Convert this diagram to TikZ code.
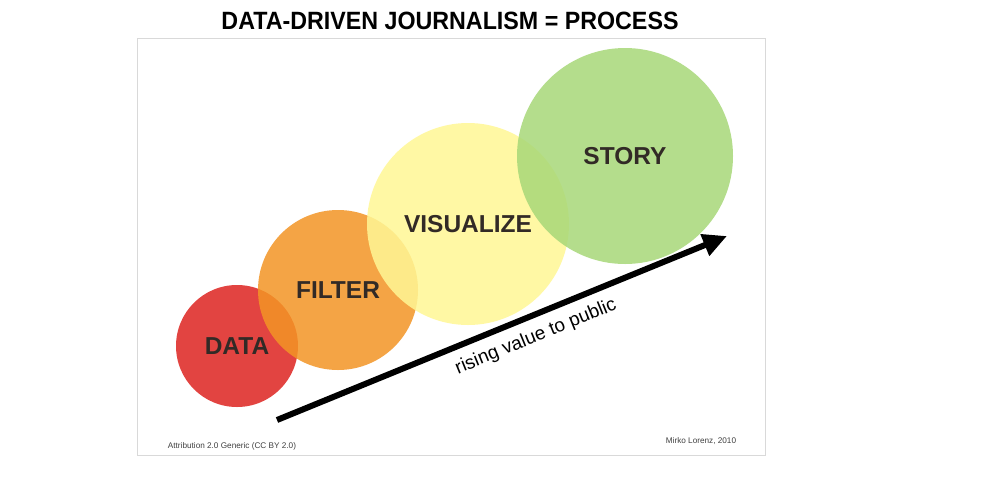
\documentclass[tikz,border=0pt]{standalone}
\usepackage{fontspec}
\setmainfont{Liberation Sans}
\usetikzlibrary{arrows.meta}
\definecolor{cred}{RGB}{222,36,32}
\definecolor{corange}{RGB}{243,149,37}
\definecolor{cyellow}{RGB}{255,247,149}
\definecolor{cgreen}{RGB}{167,216,120}
\definecolor{ctext}{RGB}{50,42,38}
\begin{document}
\begin{tikzpicture}[x=1pt,y=-1pt,
  bubble/.style={circle,inner sep=0pt,fill opacity=0.85,draw=none},
  bubblelabel/.style={font=\bfseries\fontsize{24.5}{28}\selectfont,text=ctext,inner sep=0pt},
  smalltext/.style={font=\fontsize{8.2}{10}\selectfont,text=black!75,inner sep=0pt}]
\useasboundingbox[fill=white] (0,0) rectangle (987,477);
\draw[black!15,line width=0.8pt] (137,38) rectangle (765,455);
\node[font=\bfseries\fontsize{25}{28}\selectfont,inner sep=0pt] (title) at (450,21) {\scalebox{0.93}[1]{DATA-DRIVEN JOURNALISM = PROCESS}};
% circles
\node[bubble,fill=cred,minimum size=122pt] (data) at (237,346) {};
\node[bubble,fill=corange,minimum size=160pt] (filter) at (338,290) {};
\node[bubble,fill=cyellow,minimum size=202pt] (visualize) at (468,224) {};
\node[bubble,fill=cgreen,minimum size=216pt] (story) at (625,156) {};
% labels
\node[bubblelabel] (dataL) at (data.center) {DATA};
\node[bubblelabel] (filterL) at (filter.center) {FILTER};
\node[bubblelabel] (visualizeL) at (visualize.center) {VISUALIZE};
\node[bubblelabel] (storyL) at (story.center) {STORY};
% arrow
\coordinate (as) at (277,420);
\coordinate (ae) at (727,236);
\draw[line width=6pt,-{Triangle[length=24pt,width=22pt]}] (as) -- (ae);
\node[font=\fontsize{19}{22}\selectfont,rotate=22.2,inner sep=0pt] (rising) at (536,337) {rising value to public};
% credits
\node[smalltext] (attr) at (232,446) {Attribution 2.0 Generic (CC BY 2.0)};
\node[smalltext] (author) at (701,441) {Mirko Lorenz, 2010};
\end{tikzpicture}
\end{document}
